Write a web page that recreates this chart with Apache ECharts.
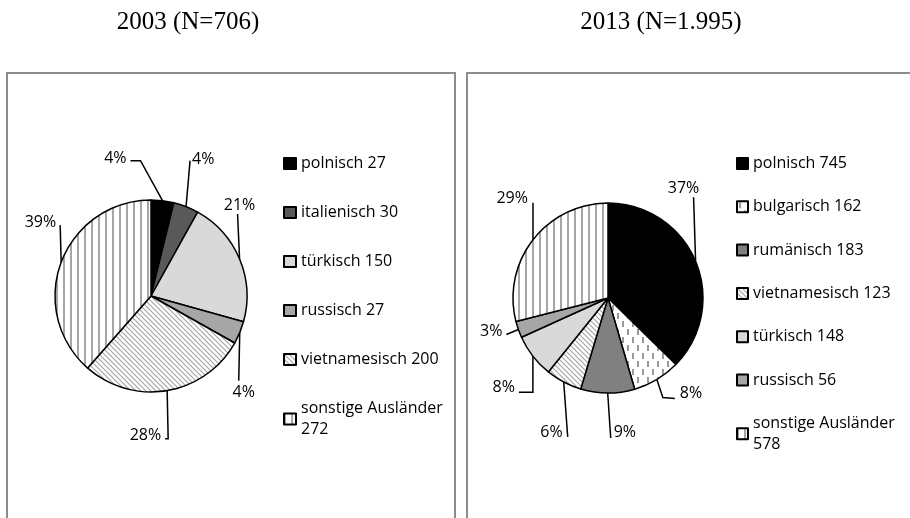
<!DOCTYPE html>
<html>
<head>
<meta charset="utf-8">
<script src="https://cdn.jsdelivr.net/npm/echarts@6/dist/echarts.min.js"></script>
<style>
  html, body { margin: 0; padding: 0; background: #fff; }
  #chart { width: 910px; height: 518px; }
</style>
</head>
<body>
<div id="chart"></div>
<script>
// 2003
const cats2003 = ['polnisch', 'italienisch', 'türkisch', 'russisch', 'vietnamesisch', 'sonstige Ausländer'];
const vals2003 = [27, 30, 150, 27, 200, 272];
const pct2003 = ['4%', '4%', '21%', '4%', '28%', '39%'];

// 2013
const cats2013 = ['polnisch', 'bulgarisch', 'rumänisch', 'vietnamesisch', 'türkisch', 'russisch', 'sonstige Ausländer'];
const vals2013 = [745, 162, 183, 123, 148, 56, 578];
const pct2013 = ['37%', '8%', '9%', '6%', '8%', '3%', '29%'];

// fill patterns
function tile(w, h, draw) {
    const c = document.createElement('canvas');
    c.width = w; c.height = h;
    const ctx = c.getContext('2d');
    ctx.fillStyle = '#fff';
    ctx.fillRect(0, 0, w, h);
    draw(ctx);
    return { image: c, repeat: 'repeat' };
}
const stripes = tile(7, 7, function (ctx) {
    ctx.fillStyle = '#a6a6a6';
    ctx.fillRect(0, 0, 2, 7);
});
const hatch = tile(5, 5, function (ctx) {
    ctx.strokeStyle = '#a6a6a6';
    ctx.lineWidth = 1.2;
    ctx.beginPath();
    ctx.moveTo(-1, -1); ctx.lineTo(6, 6);
    ctx.moveTo(-1, 4); ctx.lineTo(1, 6);
    ctx.moveTo(4, -1); ctx.lineTo(6, 1);
    ctx.stroke();
});
const dashes = tile(10, 16, function (ctx) {
    ctx.fillStyle = '#999';
    ctx.fillRect(2, 1, 2, 6);
    ctx.fillRect(7, 9, 2, 6);
});

const fills2003 = ['#000', '#595959', '#d9d9d9', '#a6a6a6', hatch, stripes];
const fills2013 = ['#000', dashes, '#808080', hatch, '#d9d9d9', '#a6a6a6', stripes];

// leader lines: offsets from the slice edge, then text offset
const lead2003 = [
    { path: [[-22, -40], [-32, -40]], t: [-4, -2], align: 'right', va: 'middle' },
    { path: [[4, -46], [4, -46]], t: [2, -1], align: 'left', va: 'middle' },
    { path: [[-2, -45], [-2, -45]], t: [2, -1], align: 'center', va: 'bottom' },
    { path: [[-1, 48], [-1, 48]], t: [5, 4], align: 'center', va: 'top' },
    { path: [[1, 48], [-2, 48]], t: [-4, -3], align: 'right', va: 'middle' },
    { path: [[-1, -37], [-1, -37]], t: [-4, -3], align: 'right', va: 'middle' }
];
const lead2013 = [
    { path: [[-2, -64], [-2, -64]], t: [-10, -1], align: 'center', va: 'bottom' },
    { path: [[6, 18], [18, 19]], t: [5, -5], align: 'left', va: 'middle' },
    { path: [[3, 45], [3, 45]], t: [3, -6], align: 'left', va: 'middle' },
    { path: [[4, 55], [4, 55]], t: [-5, -5], align: 'right', va: 'middle' },
    { path: [[0, 36], [-14, 36]], t: [-4, -5], align: 'right', va: 'middle' },
    { path: [[-12, 5], [-12, 5]], t: [-4, -3], align: 'right', va: 'middle' },
    { path: [[0, -37], [0, -37]], t: [-5, -4], align: 'right', va: 'middle' }
];

function leaderLayout(leads) {
    return function (p) {
        if (!p.labelLinePoints) return {};
        const a = p.labelLinePoints[0];
        const L = leads[p.dataIndex];
        const pts = [[a[0], a[1]]];
        L.path.forEach(function (d) { pts.push([a[0] + d[0], a[1] + d[1]]); });
        const e = pts[pts.length - 1];
        return {
            x: e[0] + L.t[0], y: e[1] + L.t[1],
            align: L.align, verticalAlign: L.va,
            labelLinePoints: pts
        };
    };
}

const textFont = { fontFamily: 'Open Sans', fontSize: 16, color: '#000' };

function pieSeries(cats, vals, pcts, fills, leads, center, r) {
    return {
        type: 'pie',
        center: center,
        radius: r,
        startAngle: 90,
        clockwise: true,
        avoidLabelOverlap: false,
        animation: false,
        silent: true,
        data: cats.map(function (c, i) {
            return { name: c, value: vals[i], itemStyle: { color: fills[i] } };
        }),
        itemStyle: { borderColor: '#000', borderWidth: 1.5 },
        label: {
            show: true,
            position: 'outside',
            formatter: function (p) { return pcts[p.dataIndex]; },
            ...textFont
        },
        labelLine: { show: true, smooth: false, lineStyle: { color: '#000', width: 1.5 } },
        labelLayout: leaderLayout(leads),
        emphasis: { disabled: true }
    };
}

function legendOf(cats, vals, left, top, gap, iw, ih) {
    return {
        orient: 'vertical',
        left: left,
        top: top,
        padding: 0,
        itemWidth: iw,
        itemHeight: ih,
        itemGap: gap,
        selectedMode: false,
        icon: 'rect',
        data: cats,
        formatter: function (name) {
            const v = vals[cats.indexOf(name)];
            return name + (name.length > 15 ? '\n' : ' ') + v;
        },
        textStyle: { ...textFont, lineHeight: 21 }
    };
}

const chart = echarts.init(document.getElementById('chart'), null, { renderer: 'canvas' });
chart.setOption({
    backgroundColor: '#fff',
    animation: false,
    graphic: [
        { type: 'rect', shape: { x: 7, y: 73, width: 448, height: 500 }, style: { fill: null, stroke: '#8c8c8c', lineWidth: 2 }, z: -1 },
        { type: 'rect', shape: { x: 467, y: 73, width: 500, height: 500 }, style: { fill: null, stroke: '#8c8c8c', lineWidth: 2 }, z: -1 },
        { type: 'text', x: 188, y: 22, style: { text: '2003 (N=706)', font: '25px "Liberation Serif"', fill: '#000', textAlign: 'center', textVerticalAlign: 'middle' } },
        { type: 'text', x: 661, y: 22, style: { text: '2013 (N=1.995)', font: '25px "Liberation Serif"', fill: '#000', textAlign: 'center', textVerticalAlign: 'middle' } }
    ],
    legend: [
        legendOf(cats2003, vals2003, 283, 153, 28, 12, 11),
        legendOf(cats2013, vals2013, 736, 153, 22.3, 11, 11)
    ],
    series: [
        pieSeries(cats2003, vals2003, pct2003, fills2003, lead2003, [151, 296], 96),
        pieSeries(cats2013, vals2013, pct2013, fills2013, lead2013, [608, 298], 95)
    ]
});
</script>
</body>
</html>
